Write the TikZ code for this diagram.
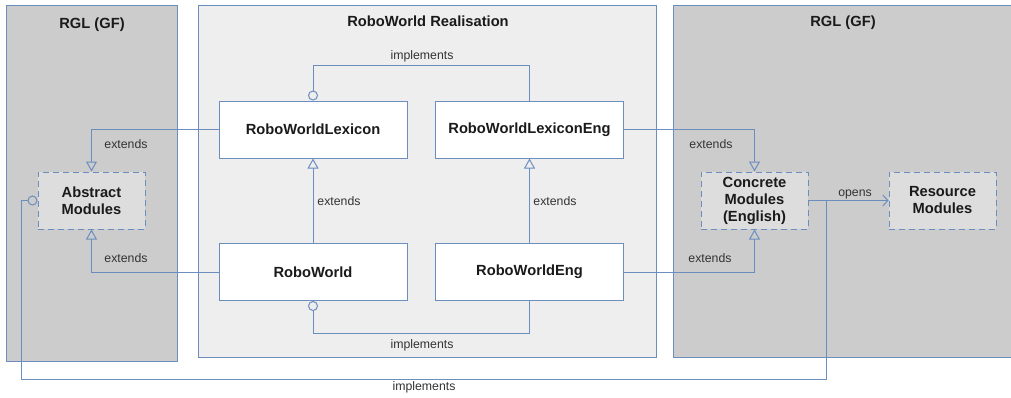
\documentclass[tikz,border=0pt]{standalone}
\usepackage{fontspec}
\setmainfont{Liberation Sans}
\usetikzlibrary{arrows.meta}
\definecolor{lineblue}{HTML}{6C8EBF}
\definecolor{darkpanel}{HTML}{CCCCCC}
\definecolor{lightpanel}{HTML}{EEEEEE}
\definecolor{dashfill}{HTML}{DDDDDD}
\definecolor{txt}{HTML}{1A1A1A}
\definecolor{lbltxt}{HTML}{333333}
\tikzset{
  panel/.style={draw=lineblue, line width=1pt, inner sep=0pt},
  ptitle/.style={font=\bfseries\fontsize{14.7}{17}\selectfont, text=txt, inner sep=0pt},
  classbox/.style={draw=lineblue, line width=1pt, fill=white, minimum width=188pt, minimum height=57pt, inner sep=0pt,
    font=\bfseries\fontsize{14.7}{17}\selectfont, text=txt},
  modbox/.style={draw=lineblue, line width=1pt, fill=dashfill, dash pattern=on 6pt off 4pt, minimum width=107pt, minimum height=57pt,
    inner sep=0pt, align=center, font=\bfseries\fontsize{14.7}{17}\selectfont, text=txt},
  lbl/.style={font=\fontsize{12.3}{14}\selectfont, text=lbltxt, inner sep=0pt},
  conn/.style={draw=lineblue, line width=1pt},
  ext/.style={conn, -{Triangle[open, length=10pt, width=11pt]}},
  impl/.style={conn, -{Circle[open, length=10pt]}},
  opensarr/.style={conn, -{Straight Barb[length=5pt, width=11pt]}},
}
\begin{document}
\begin{tikzpicture}[x=1pt, y=-1pt]
\useasboundingbox (0,0) rectangle (1011,397);
% panels
\node[panel, fill=darkpanel, minimum width=171pt, minimum height=356pt] (lp) at (91.5,183) {};
\node[panel, fill=lightpanel, minimum width=458pt, minimum height=352pt] (mp) at (427,181) {};
\node[panel, fill=darkpanel, minimum width=350pt, minimum height=352pt] (rp) at (848,181) {};
\node[ptitle] (lt) at (92,24.5) {RGL (GF)};
\node[ptitle] (mt) at (428,21.5) {RoboWorld Realisation};
\node[ptitle] (rt) at (843,22.5) {RGL (GF)};
% class boxes
\node[classbox] (rwl) at (313,129.5) {RoboWorldLexicon};
\node[classbox] (rwle) at (529.5,129.5) {RoboWorldLexiconEng};
\node[classbox] (rw) at (313,272) {RoboWorld};
\node[classbox] (rwe) at (529.5,272) {RoboWorldEng};
% module boxes
\node[modbox] (abs) at (91.5,200.5) {Abstract\\Modules};
\node[modbox] (conc) at (754.5,200.5) {Concrete\\Modules\\(English)};
\node[modbox] (res) at (942.5,200.5) {Resource\\Modules};
% connectors
\draw[impl] (rwle.north) -- ++(0,-35) -| (rwl.north);
\draw[impl] (rwe.south) -- ++(0,32) -| (rw.south);
\draw[ext] (rw.north) -- (rwl.south);
\draw[ext] (rwe.north) -- (rwle.south);
\draw[ext] (rwl.west) -| (abs.north);
\draw[ext] (rw.west) -| (abs.south);
\draw[ext] (rwle.east) -| (conc.north);
\draw[ext] (rwe.east) -| (conc.south);
\draw[opensarr] (conc.east) -- (res.west);
\coordinate (br) at (826,200.5);
\coordinate (bl) at (21,379);
\draw[impl] (br) |- (bl) |- (abs.west);
% labels
\node[lbl] (li1) at (422,56) {implements};
\node[lbl] (li2) at (422,345) {implements};
\node[lbl] (li3) at (424,387) {implements};
\node[lbl] (le1) at (126,144) {extends};
\node[lbl] (le2) at (126,258) {extends};
\node[lbl] (le3) at (339,201) {extends};
\node[lbl] (le4) at (555,201) {extends};
\node[lbl] (le5) at (711,144) {extends};
\node[lbl] (le6) at (710,258) {extends};
\node[lbl] (lo) at (855,194) {opens};
\end{tikzpicture}
\end{document}
